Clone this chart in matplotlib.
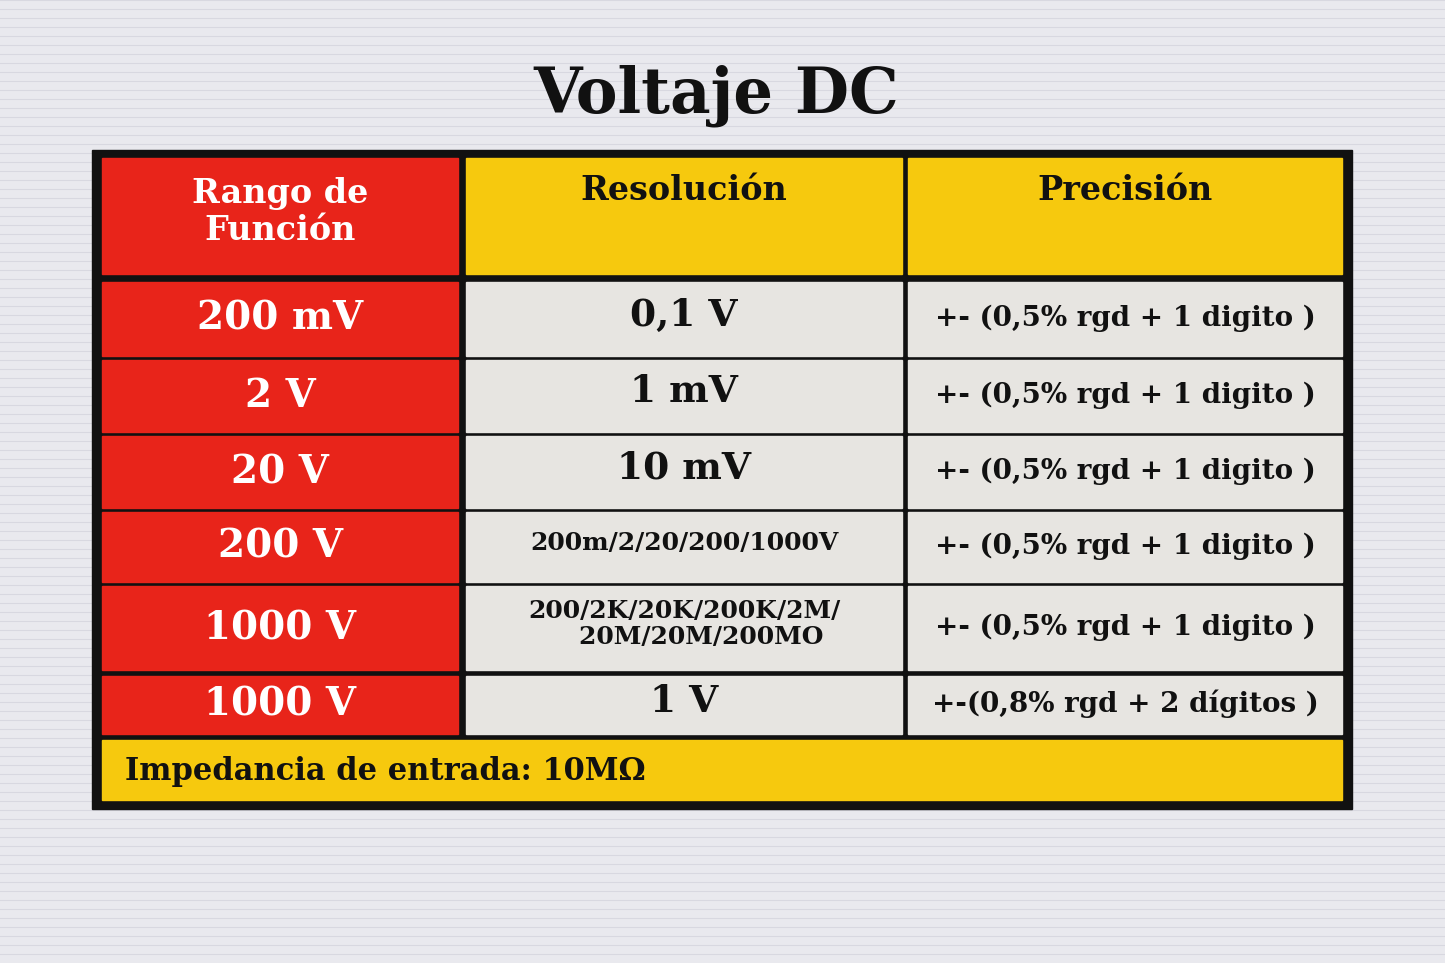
import matplotlib
matplotlib.use("Agg")
import matplotlib.pyplot as plt
from matplotlib.patches import Rectangle

title = "Voltaje DC"
headers = ["Rango de\nFunción", "Resolución", "Precisión"]
ranges = ["200 mV", "2 V", "20 V", "200 V", "1000 V", "1000 V"]
resolutions = ["0,1 V", "1 mV", "10 mV", "200m/2/20/200/1000V",
               "200/2K/20K/200K/2M/\n    20M/20M/200MO", "1 V"]
precisions = ["+- (0,5% rgd + 1 digito )"] * 5 + ["+-(0,8% rgd + 2 dígitos )"]
footer = "Impedancia de entrada: 10MΩ"

RED, YELLOW, GREY, BG = "#e8241a", "#f6c90e", "#e7e5e1", "#e9e9ee"
FONT = "DejaVu Serif"

fig = plt.figure(figsize=(14.45, 9.63), dpi=100)
ax = fig.add_axes([0, 0, 1, 1])
ax.set_xlim(0, 1445)
ax.set_ylim(963, 0)
ax.axis("off")
fig.patch.set_facecolor(BG)

# subtle horizontal stripes of the paper background
for y in range(0, 963, 9):
    ax.axhline(y, color="#d8d8e0", lw=0.8, zorder=0)

ax.text(716, 88, title, ha="center", va="center_baseline", fontsize=45,
        fontweight="bold", family=FONT, color="#111111")

# outer black frame
ax.add_patch(Rectangle((92, 150), 1260, 659, color="#111111", zorder=1))

cols = [(102, 458), (466, 902), (908, 1342)]
rows = [(282, 356), (360, 432), (436, 508), (512, 582), (586, 670), (676, 734)]


def cell(x0, x1, y0, y1, color):
    ax.add_patch(Rectangle((x0, y0), x1 - x0, y1 - y0, color=color, zorder=2))


# header
hy = (158, 274)
cell(*cols[0], *hy, RED)
cell(*cols[1], *hy, YELLOW)
cell(*cols[2], *hy, YELLOW)
ax.text(sum(cols[0]) / 2, 212, headers[0], ha="center", va="center", fontsize=24,
        fontweight="bold", family=FONT, color="white", linespacing=1.15, zorder=3)
for i in (1, 2):
    ax.text(sum(cols[i]) / 2, 187, headers[i], ha="center", va="center_baseline",
            fontsize=24, fontweight="bold", family=FONT, color="#111111", zorder=3)

for (y0, y1), r, res, p in zip(rows, ranges, resolutions, precisions):
    yc = (y0 + y1) / 2 - 4
    cell(*cols[0], y0, y1, RED)
    cell(*cols[1], y0, y1, GREY)
    cell(*cols[2], y0, y1, GREY)
    ax.text(sum(cols[0]) / 2, yc, r, ha="center", va="center_baseline", fontsize=28,
            fontweight="bold", family=FONT, color="white", zorder=3)
    small = "/" in res
    ax.text(sum(cols[1]) / 2, yc, res, ha="center", va="center",
            fontsize=18 if small else 27, fontweight="bold", family=FONT,
            color="#111111", linespacing=1.15, zorder=3)
    ax.text(sum(cols[2]) / 2, yc, p, ha="center", va="center_baseline", fontsize=20,
            fontweight="bold", family=FONT, color="#111111", zorder=3)

# footer
cell(102, 1342, 740, 800, YELLOW)
ax.text(125, 768, footer, ha="left", va="center_baseline", fontsize=22,
        fontweight="bold", family=FONT, color="#111111", zorder=3)

fig.savefig("out.png", dpi=100, facecolor=BG)
